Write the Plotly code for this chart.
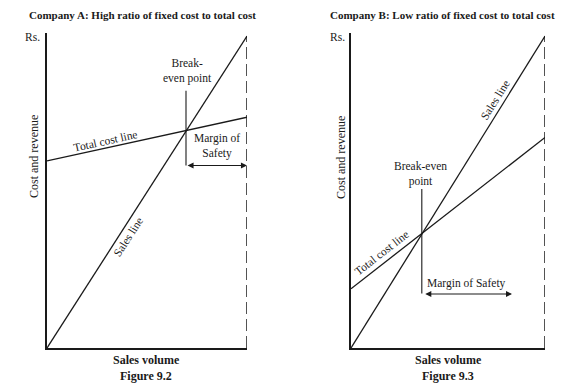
import plotly.graph_objects as go

# ---- data ----
volume = [0, 10]                     # sales volume (relative units)
sales_a = [0, 100]                   # Company A sales line
total_cost_a = [60, 74]              # Company A total cost line
breakeven_a = 6.95                   # break-even volume A
be_marker_a = [58.5, 82.5]           # vertical break-even marker span A
margin_a = [6.95, 10]                # margin of safety span A
margin_level_a = 58.5

sales_b = [0, 100]                   # Company B sales line
total_cost_b = [19, 67.5]            # Company B total cost line
breakeven_b = 3.65
be_marker_b = [17.5, 51]
margin_b = [3.75, 8.3]
margin_level_b = 17.3

capacity = 10                        # dashed capacity line
W, H = 584, 392
SERIF = "Liberation Serif"
INK = "#1a1a1a"

def px_dom(a, b, total):
    return [a / total, b / total]

fig = go.Figure()

line_style = dict(color=INK, width=1.3)
dash_style = dict(color=INK, width=1.5, dash="12px,5px")

for ax, sales, cost, be, bem, mg, mgl in [
    ("", sales_a, total_cost_a, breakeven_a, be_marker_a, margin_a, margin_level_a),
    ("2", sales_b, total_cost_b, breakeven_b, be_marker_b, margin_b, margin_level_b),
]:
    xa, ya = "x" + ax, "y" + ax
    fig.add_trace(go.Scatter(x=volume, y=sales, mode="lines", line=line_style,
                             xaxis=xa, yaxis=ya, showlegend=False, cliponaxis=False,
                             hoverinfo="skip"))
    fig.add_trace(go.Scatter(x=volume, y=cost, mode="lines", line=line_style,
                             xaxis=xa, yaxis=ya, showlegend=False, cliponaxis=False,
                             hoverinfo="skip"))
    fig.add_trace(go.Scatter(x=[be, be], y=bem, mode="lines", line=dict(color=INK, width=1.1),
                             xaxis=xa, yaxis=ya, showlegend=False, cliponaxis=False,
                             hoverinfo="skip"))
    fig.add_trace(go.Scatter(x=[capacity, capacity], y=[0, max(sales)], mode="lines",
                             line=dash_style, xaxis=xa, yaxis=ya, showlegend=False,
                             cliponaxis=False, hoverinfo="skip"))
    fig.add_annotation(x=mg[1], y=mgl, ax=mg[0], ay=mgl, xref=xa, yref=ya,
                       axref=xa, ayref=ya, text="", showarrow=True,
                       arrowhead=2, arrowside="end+start", arrowsize=1.1,
                       arrowwidth=1.1, arrowcolor=INK, standoff=0, startstandoff=0)

ydom = px_dom(H - 348, H - 33, H)
common = dict(showline=True, linecolor=INK, linewidth=1.6, showticklabels=False,
              ticks="", showgrid=False, zeroline=False, fixedrange=True)
fig.update_layout(
    width=W, height=H, margin=dict(l=0, r=0, t=0, b=0),
    paper_bgcolor="white", plot_bgcolor="white", hovermode=False,
    xaxis=dict(domain=px_dom(47, 247, W), range=[0, 10], anchor="y", **common),
    yaxis=dict(domain=ydom, range=[0, 101], anchor="x", **common),
    xaxis2=dict(domain=px_dom(351, 545, W), range=[0, 10], anchor="y2", **common),
    yaxis2=dict(domain=ydom, range=[0, 101], anchor="x2", **common),
    font=dict(family=SERIF, color=INK),
)

def note(text, x, y, xa, ya, size=11.5, angle=0, bold=False, **kw):
    if bold:
        text = "<b>" + text + "</b>"
    kw.setdefault("xanchor", "center")
    kw.setdefault("yanchor", "middle")
    fig.add_annotation(text=text, x=x, y=y, xref=xa, yref=ya, showarrow=False,
                       textangle=angle, font=dict(family=SERIF, size=size, color=INK),
                       **kw)

def pnote(text, px, py, **kw):
    note(text, px / W, 1 - py / H, "paper", "paper", **kw)

# Panel A labels
pnote("Company A: High ratio of fixed cost to total cost", 142, 15, size=11, bold=True)
note("Break-<br>even point", 7.0, 88.8, "x", "y", size=11.5)
note("Margin of<br>Safety", 8.5, 64.7, "x", "y", size=11.5)
note("Total cost line", 2.9, 66.3, "x", "y", size=11.5, angle=-12.5)
note("Sales line", 4.05, 35.6, "x", "y", size=11.5, angle=-57)
pnote("Rs.", 42, 37, size=11.5, xanchor="right")
pnote("Cost and revenue", 34, 157, size=12, angle=-90)
pnote("Sales volume", 146, 360, size=12, bold=True)
pnote("Figure 9.2", 146, 376, size=12, bold=True)

# Panel B labels
pnote("Company B: Low ratio of fixed cost to total cost", 442, 15, size=11, bold=True)
note("Break-even<br>point", 3.56, 55.8, "x2", "y2", size=11.5)
note("Margin of Safety", 5.93, 20.6, "x2", "y2", size=11.5)
note("Total cost line", 1.55, 30.6, "x2", "y2", size=11.5, angle=-38)
note("Sales line", 7.42, 79.5, "x2", "y2", size=11.5, angle=-58)
pnote("Rs.", 347, 37, size=11.5, xanchor="right")
pnote("Cost and revenue", 341, 157, size=12, angle=-90)
pnote("Sales volume", 448, 360, size=12, bold=True)
pnote("Figure 9.3", 448, 376, size=12, bold=True)

fig.write_html("out.html",
               config={"displayModeBar": False, "staticPlot": False},
               post_script="document.body.style.margin='0';"
                           "document.body.style.overflow='hidden';")
